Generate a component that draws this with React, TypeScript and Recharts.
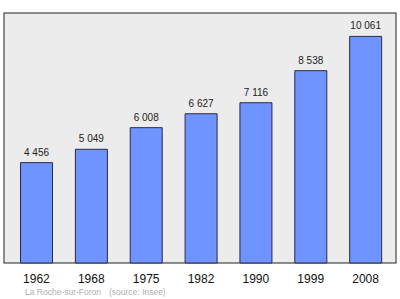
import React from 'react';
import { BarChart, Bar, XAxis, YAxis, CartesianGrid, LabelList, usePlotArea } from 'recharts';

const years = ['1962', '1968', '1975', '1982', '1990', '1999', '2008'];
const population = [4456, 5049, 6008, 6627, 7116, 8538, 10061];
const footnoteTown = 'La Roche-sur-Foron';
const footnoteSource = '(source: Insee)';

const data = years.map((y, i) => ({ year: y, pop: population[i] }));

const fmt = (v: number) => String(v).replace(/\B(?=(\d{3})+(?!\d))/g, ' ');

const FONT = 'Liberation Sans, Arial, sans-serif';

const Frame = () => {
  const area = usePlotArea();
  if (!area) return null;
  return (
    <g>
      <rect x={area.x} y={area.y} width={area.width} height={area.height} fill="none" stroke="#222" strokeWidth={1} />
      <text x={25} y={295} fontSize={8.5} fill="#b0b0b0" fontFamily={FONT}>{footnoteTown}</text>
      <text x={109} y={295} fontSize={8.5} fill="#b0b0b0" fontFamily={FONT}>{footnoteSource}</text>
    </g>
  );
};

const ValueLabel = (props: any) => {
  const { x, y, width, value } = props;
  return (
    <text x={Number(x) + Number(width) / 2} y={Number(y) - 7} textAnchor="middle" fontSize={10} fill="#222" fontFamily={FONT}>
      {fmt(Number(value))}
    </text>
  );
};

export default function App() {
  return (
    <div style={{ position: 'absolute', left: 0, top: 0, background: '#fff' }}>
      <BarChart
        width={400}
        height={299}
        data={data}
        margin={{ top: 13, right: 4, bottom: 16, left: 4 }}
        barCategoryGap="21%"
        style={{ fontFamily: FONT }}
      >
        <CartesianGrid fill="#ececec" stroke="none" horizontal={false} vertical={false} />
        <XAxis
          dataKey="year"
          height={20}
          tickLine={false}
          axisLine={false}
          tickMargin={5}
          padding={{ left: 5, right: 3 }}
          tick={{ fill: '#111', fontSize: 12 }}
          interval={0}
        />
        <YAxis hide domain={[0, 11100]} />
        <Bar dataKey="pop" fill="#6f94ff" stroke="#2a2a4a" strokeWidth={1} isAnimationActive={false}>
          <LabelList dataKey="pop" content={ValueLabel} />
        </Bar>
        <Frame />
      </BarChart>
    </div>
  );
}
